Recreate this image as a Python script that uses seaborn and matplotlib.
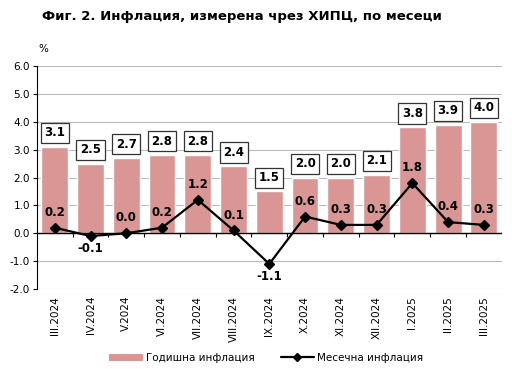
import numpy as np
import pandas as pd
import matplotlib
matplotlib.use("Agg")
import matplotlib.pyplot as plt
import seaborn as sns
from matplotlib.lines import Line2D
from matplotlib.patches import Patch

months = ["III.2024", "IV.2024", "V.2024", "VI.2024", "VII.2024", "VIII.2024",
          "IX.2024", "X.2024", "XI.2024", "XII.2024", "I.2025", "II.2025", "III.2025"]
annual = [3.1, 2.5, 2.7, 2.8, 2.8, 2.4, 1.5, 2.0, 2.0, 2.1, 3.8, 3.9, 4.0]
monthly = [0.2, -0.1, 0.0, 0.2, 1.2, 0.1, -1.1, 0.6, 0.3, 0.3, 1.8, 0.4, 0.3]

bar_color = "#D99694"

sns.set_theme(style="white")
plt.rcParams["font.family"] = ["DejaVu Sans"]
plt.rcParams["text.color"] = "black"
plt.rcParams["xtick.color"] = "black"
plt.rcParams["ytick.color"] = "black"

df = pd.DataFrame({"month": months, "annual": annual, "monthly": monthly})

fig = plt.figure(figsize=(5.12, 3.71), dpi=100)
ax = fig.add_axes([0.072, 0.221, 0.908, 0.601])

sns.barplot(data=df, x="month", y="annual", color=bar_color, saturation=1,
            width=0.75, ax=ax, zorder=2)
x = np.arange(len(months))
ax.plot(x, monthly, color="black", lw=1.6, marker="D", markersize=5, zorder=4)

ax.set_ylim(-2.0, 6.0)
ax.set_xlim(-0.5, len(months) - 0.5)
ax.set_yticks(np.arange(-2, 6.01, 1.0))
ax.set_yticklabels([f"{v:.1f}" for v in np.arange(-2, 6.01, 1.0)], fontsize=7.5)
ax.yaxis.grid(True, color="#BBBBBB", lw=0.8, zorder=0)
ax.set_axisbelow(True)
ax.tick_params(axis="y", length=3, width=0.8, color="black", left=True, pad=2)
ax.tick_params(axis="x", length=0, pad=5)
ax.set_xticks(x)
ax.set_xticklabels(months, rotation=90, fontsize=7.5)
ax.set_xlabel("")
ax.set_ylabel("")
for s in ["top", "right", "bottom"]:
    ax.spines[s].set_visible(False)
ax.spines["left"].set_color("black")
ax.spines["left"].set_linewidth(0.8)

# zero line with category separators
ax.axhline(0, color="black", lw=1.0, zorder=3)
ax.vlines(x[1:] - 0.5, -0.15, 0, color="black", lw=0.8, zorder=3)

for xi, v in zip(x, annual):
    ax.annotate(f"{v:.1f}", (xi, v), xytext=(0, 10), textcoords="offset points",
                ha="center", va="center", fontsize=8.5, fontweight="bold",
                bbox=dict(boxstyle="square,pad=0.3", fc="white", ec="#333333", lw=0.9),
                zorder=5)

for xi, v in zip(x, monthly):
    dy = -9 if v < 0 else 11
    ax.annotate(f"{v:.1f}", (xi, v), xytext=(0, dy), textcoords="offset points",
                ha="center", va="center", fontsize=8.5, fontweight="bold", zorder=5)

fig.text(0.082, 0.955, "Фиг. 2. Инфлация, измерена чрез ХИПЦ, по месеци",
         fontsize=9.5, fontweight="bold", va="center")
fig.text(0.074, 0.868, "%", fontsize=7.5, va="center")

handles = [Patch(facecolor=bar_color, edgecolor="none"),
           Line2D([0], [0], color="black", lw=1.6, marker="D", markersize=4)]
fig.legend(handles, ["Годишна инфлация", "Месечна инфлация"], loc="center",
           bbox_to_anchor=(0.52, 0.035), ncol=2, frameon=False, fontsize=7.5,
           handlelength=3.2, handleheight=0.7, columnspacing=2.5, handletextpad=0.3)

fig.savefig("out.png", dpi=100)
